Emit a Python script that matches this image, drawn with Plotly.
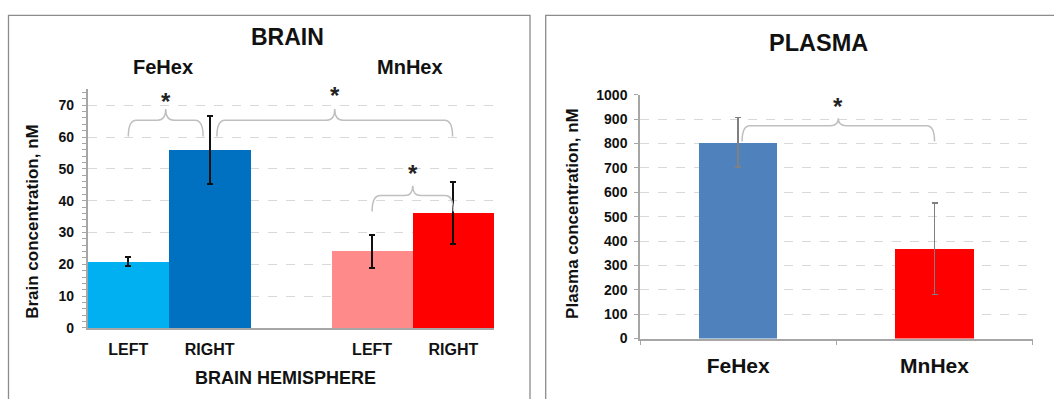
import plotly.graph_objects as go

W, H = 1054, 399

# ---------------- data ----------------
brain_labels = ["LEFT", "RIGHT", "LEFT", "RIGHT"]
brain_groups = ["FeHex", "FeHex", "MnHex", "MnHex"]
brain_pos = [0, 1, 3, 4]
brain_values = [20.8, 55.8, 24.0, 36.2]
brain_err = [1.4, 10.7, 5.2, 9.7]
brain_colors = ["#00b0f0", "#0070c0", "#ff8a8a", "#ff0000"]

plasma_labels = ["FeHex", "MnHex"]
plasma_pos = [0, 1]
plasma_values = [805, 368]
plasma_err = [102, 188]
plasma_colors = ["#4f81bd", "#ff0000"]

# significance braces: (x0, x1, y_end, y_mid, y_peak)
brain_braces = [(0.0, 0.92, 60.2, 65.3, 68.8),
                (1.09, 3.99, 60.2, 65.3, 68.8),
                (3.0, 4.0, 36.6, 41.6, 44.7)]
plasma_braces = [(0.02, 1.0, 809, 873, 904)]

FONT = "Liberation Sans, Arial, sans-serif"
AX = "#a6a6a6"
GRID = "#d9d9d9"

# the photographed page shows a slight vertical squeeze; compensate for it
SQ_A, SQ_B = 0.965, 6.0


def px(x):
    return x / W


def py(y):
    return 1 - ((y - SQ_B) / SQ_A) / H


def brace_path(x0, x1, ye, ym, yp, r):
    xc = (x0 + x1) / 2
    return (f"M {x0},{ye} Q {x0},{ym} {x0 + r},{ym} L {xc - r},{ym} "
            f"Q {xc},{ym} {xc},{yp} Q {xc},{ym} {xc + r},{ym} "
            f"L {x1 - r},{ym} Q {x1},{ym} {x1},{ye}")


fig = go.Figure()

fig.add_trace(go.Bar(
    x=brain_pos, y=brain_values, width=[1] * len(brain_pos),
    marker=dict(color=brain_colors, line=dict(width=0)),
    error_y=dict(type="data", array=brain_err, color="#111111", thickness=2, width=3),
    xaxis="x", yaxis="y", showlegend=False, hoverinfo="skip",
))

fig.add_trace(go.Bar(
    x=plasma_pos, y=plasma_values, width=[0.4] * len(plasma_pos),
    marker=dict(color=plasma_colors, line=dict(width=0)),
    error_y=dict(type="data", array=plasma_err, color="#808080", thickness=1.5, width=3),
    xaxis="x2", yaxis="y2", showlegend=False, hoverinfo="skip",
))

shapes = []
# panel borders
shapes.append(dict(type="rect", xref="paper", yref="paper",
                   x0=px(8.5), x1=px(530), y0=-0.2, y1=py(13.5),
                   line=dict(color="#8c8c8c", width=1.3), layer="below"))
shapes.append(dict(type="rect", xref="paper", yref="paper",
                   x0=px(545.7), x1=1.05, y0=-0.2, y1=py(13.5),
                   line=dict(color="#8c8c8c", width=1.3), layer="below"))

for b in brain_braces:
    shapes.append(dict(type="path", xref="x", yref="y",
                       path=brace_path(*b, 0.1),
                       line=dict(color="#bfbfbf", width=1.5)))
for b in plasma_braces:
    shapes.append(dict(type="path", xref="x2", yref="y2",
                       path=brace_path(*b, 0.04),
                       line=dict(color="#bfbfbf", width=1.5)))

annotations = []


def txt(x, y, text, size, angle=0):
    annotations.append(dict(xref="paper", yref="paper", x=px(x), y=py(y),
                            text=text, showarrow=False, textangle=angle,
                            xanchor="center", yanchor="middle",
                            font=dict(family=FONT, size=size, color="#111111", weight="bold")))


txt(287, 35.5, "BRAIN", 23)
txt(163, 65.5, brain_groups[0], 20)
txt(410, 65.5, brain_groups[2], 20)
txt(285, 378, "BRAIN HEMISPHERE", 18)
txt(33, 221, "Brain concentration, nM", 17, -90)
txt(818, 41.5, "PLASMA", 23.5)
txt(573, 213, "Plasma concentration, nM", 17, -90)

# stars
for (x0, x1, ye, ym, yp), ys in zip(brain_braces, [72.8, 74.5, 50.0]):
    annotations.append(dict(xref="x", yref="y", x=(x0 + x1) / 2, y=ys, text="*",
                            showarrow=False, yshift=-5,
                            font=dict(family=FONT, size=24, color="#222222", weight="bold")))
for (x0, x1, ye, ym, yp) in plasma_braces:
    annotations.append(dict(xref="x2", yref="y2", x=(x0 + x1) / 2, y=973, text="*",
                            showarrow=False, yshift=-5,
                            font=dict(family=FONT, size=24, color="#222222", weight="bold")))

tickfont = dict(family=FONT, size=14, color="#111111", weight="bold")

fig.update_layout(
    width=W, height=H,
    margin=dict(l=0, r=0, t=0, b=0),
    paper_bgcolor="white", plot_bgcolor="rgba(0,0,0,0)",
    bargap=0, hovermode=False,
    shapes=shapes, annotations=annotations,
    xaxis=dict(domain=[px(87.7), px(494)], range=[-0.5, 4.5], anchor="y",
               tickvals=brain_pos, ticktext=brain_labels,
               tickfont=dict(family=FONT, size=16, color="#111111", weight="bold"),
               ticks="", showgrid=False, zeroline=False,
               showline=True, linecolor=AX, linewidth=1.5, ticklabelstandoff=6),
    yaxis=dict(domain=[py(327.7), py(87.7)], range=[0, 75], tick0=0, dtick=10, anchor="x",
               tickfont=tickfont, showgrid=True, gridcolor=GRID, griddash="dash",
               gridwidth=1, zeroline=False, showline=True, linecolor=AX, linewidth=1.5,
               ticks="outside", ticklen=4, tickcolor=AX, ticklabelstandoff=5,
               minor=dict(ticks="outside", dtick=2, tick0=0, ticklen=4, tickcolor=AX, showgrid=False)),
    xaxis2=dict(domain=[px(640), px(1032.7)], range=[-0.5, 1.5], anchor="y2",
                tickvals=plasma_pos, ticktext=plasma_labels,
                tickfont=dict(family=FONT, size=21, color="#111111", weight="bold"),
                ticks="", showgrid=False, zeroline=False,
                showline=True, linecolor=AX, linewidth=1.5, ticklabelstandoff=8,
                minor=dict(ticks="outside", tick0=-0.5, dtick=1, ticklen=5, tickcolor=AX, showgrid=False)),
    yaxis2=dict(domain=[py(338.3), py(93.3)], range=[0, 1000], tick0=0, dtick=100, anchor="x2",
                tickfont=tickfont, showgrid=True, gridcolor=GRID, griddash="dash",
                gridwidth=1, zeroline=False, showline=True, linecolor=AX, linewidth=1.5,
                ticks="outside", ticklen=4, tickcolor=AX, ticklabelstandoff=4),
)

post = ("document.documentElement.style.margin='0';document.documentElement.style.overflow='hidden';"
        "document.body.style.margin='0';document.body.style.overflow='hidden';"
        "var d=document.getElementById('{plot_id}');d.style.position='fixed';"
        "d.style.left='0px';d.style.top='0px';")

fig.write_html("out.html", config={"displayModeBar": False, "responsive": False},
               post_script=post)
